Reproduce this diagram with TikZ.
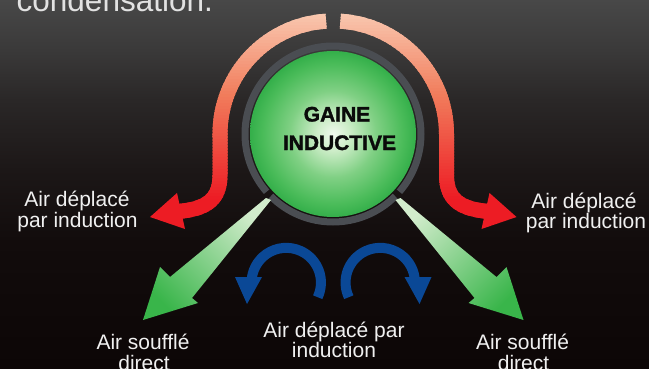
\documentclass[tikz,border=0pt]{standalone}
\usepackage{fontspec}
\setmainfont{Liberation Sans}
\newfontfamily\ttlfont[BoldFeatures={FakeBold=1.6}]{Liberation Sans}
\usetikzlibrary{calc}

\definecolor{lblc}{RGB}{240,240,240}
\definecolor{topc}{RGB}{226,226,226}
\definecolor{ttlc}{RGB}{10,10,10}
\definecolor{ringgray}{RGB}{74,77,82}
\definecolor{blueA}{RGB}{10,72,150}
\definecolor{redA}{RGB}{237,28,36}
\definecolor{redMid}{RGB}{241,125,92}
\definecolor{redTop}{RGB}{249,200,176}
\definecolor{greenA}{RGB}{57,181,74}
\definecolor{greenPale}{RGB}{210,236,204}
\definecolor{bgT}{RGB}{72,72,72}
\definecolor{bg1}{RGB}{58,57,57}
\definecolor{bg2}{RGB}{42,39,39}
\definecolor{bg3}{RGB}{28,23,23}
\definecolor{bg4}{RGB}{18,12,12}
\definecolor{bgB}{RGB}{12,6,6}
\definecolor{gC}{RGB}{240,249,238}
\definecolor{gC2}{RGB}{205,237,200}
\definecolor{gM}{RGB}{128,208,132}
\definecolor{gN}{RGB}{75,188,90}
\definecolor{gE}{RGB}{52,175,74}

\pgfdeclareverticalshading{bgshade}{100bp}{color(0bp)=(bgB); color(25bp)=(bgB); color(42.5bp)=(bg4); color(52bp)=(bg3); color(61.4bp)=(bg2); color(68.2bp)=(bg1); color(75bp)=(bgT); color(100bp)=(bgT)}
\pgfdeclareradialshading{greenball}{\pgfpoint{0bp}{0bp}}{color(0bp)=(gC); color(5bp)=(gC2); color(13bp)=(gM); color(21bp)=(gN); color(25bp)=(gE); color(50bp)=(gE)}

\newcommand\redpathL{(326.1,21.2) arc[start angle=266.5, end angle=180, radius=113] -- (220,175) .. controls (220,200) and (206,209) .. (178,211.5)}

\begin{document}
\begin{tikzpicture}[x=1pt,y=-1pt,
  lbl/.style={text=lblc, font=\fontsize{21}{20}\selectfont, inner sep=0pt, anchor=base},
  ttl/.style={text=ttlc, font=\ttlfont\fontsize{21}{21}\selectfont\bfseries, inner sep=0pt, anchor=base},
  ringarc/.style={draw=ringgray, line width=7pt},
  bluearrow/.style={draw=blueA, line width=10pt},
  blueheadst/.style={fill=blueA},
  redheadst/.style={fill=redA},
  greenarrow/.style={top color=greenPale, bottom color=greenA}
]
\useasboundingbox (0,0) rectangle (649,369);
\shade[shading=bgshade] (0,0) rectangle (649,369);

\node[inner sep=0pt, anchor=base west, font=\fontsize{31.5}{32}\selectfont, text=topc] (cond) at (16.5,12) {condensation.};

% red induction bands (vertical gradient by strips)
\foreach \ys in {11,14,...,230}{
  \pgfmathsetmacro\ym{\ys+1.5}
  \ifdim\ym pt<95pt
    \pgfmathsetmacro\pp{max(0,(\ym-14)/81*100)}
    \colorlet{bandc}{redMid!\pp!redTop}
  \else
    \pgfmathsetmacro\pp{min(100,(\ym-95)/105*100)}
    \colorlet{bandc}{redA!\pp!redMid}
  \fi
  \begin{scope}
    \clip (0,\ys-0.3) rectangle (649,\ys+3.3);
    \draw[line width=15pt, draw=bandc] \redpathL;
    \begin{scope}[xshift=666.5pt, xscale=-1]
      \draw[line width=15pt, draw=bandc] \redpathL;
    \end{scope}
  \end{scope}
}
\fill[redheadst] (177,193) -- (150,217) -- (185,229) -- cycle;
\begin{scope}[xshift=666.5pt, xscale=-1]
  \fill[redheadst] (177,193) -- (150,217) -- (185,229) -- cycle;
\end{scope}

% ring and central circle
\draw[ringarc] (333,134) ++(139:88) arc[start angle=139, end angle=401, radius=88];
\draw[ringarc] (333,134) ++(45:88) arc[start angle=45, end angle=135, radius=88];
\node[circle, minimum size=166pt, inner sep=0pt, shade, shading=greenball] (gaine) at (333,134) {};
\node[ttl] (t1) at (337,121.5) {GAINE};
\node[ttl] (t2) at (339.5,150) {INDUCTIVE};

% green direct-air arrows
\shade[greenarrow, shading angle=-45] (266,198) -- (170,277) -- (160,267) -- (143,320) -- (198,303) -- (192,298) -- (271,200) -- cycle;
\shade[greenarrow, shading angle=45] (400.5,198) -- (496.5,277) -- (506.5,267) -- (523.5,320) -- (468.5,303) -- (474.5,298) -- (395.5,200) -- cycle;

% blue arrows
\draw[bluearrow] (317.7,297.2) arc[start angle=25, end angle=-180, radius=34.7];
\fill[blueheadst] (235,277) -- (262,277) -- (247,304) -- cycle;
\begin{scope}[xshift=666.5pt, xscale=-1]
  \draw[bluearrow] (317.7,297.2) arc[start angle=25, end angle=-180, radius=34.7];
  \fill[blueheadst] (235,277) -- (262,277) -- (247,304) -- cycle;
\end{scope}

% labels
\node[lbl] (lL1) at (77,207) {Air déplacé};
\node[lbl] (lL2) at (77.5,227.5) {par induction};
\node[lbl] (lR1) at (584,208) {Air déplacé};
\node[lbl] (lR2) at (586,228) {par induction};
\node[lbl] (lC1) at (334,337) {Air déplacé par};
\node[lbl] (lC2) at (334,357) {induction};
\node[lbl] (lSL1) at (143,349) {Air soufflé};
\node[lbl] (lSL2) at (144,370) {direct};
\node[lbl] (lSR1) at (522.5,349) {Air soufflé};
\node[lbl] (lSR2) at (523.5,370) {direct};
\end{tikzpicture}
\end{document}
